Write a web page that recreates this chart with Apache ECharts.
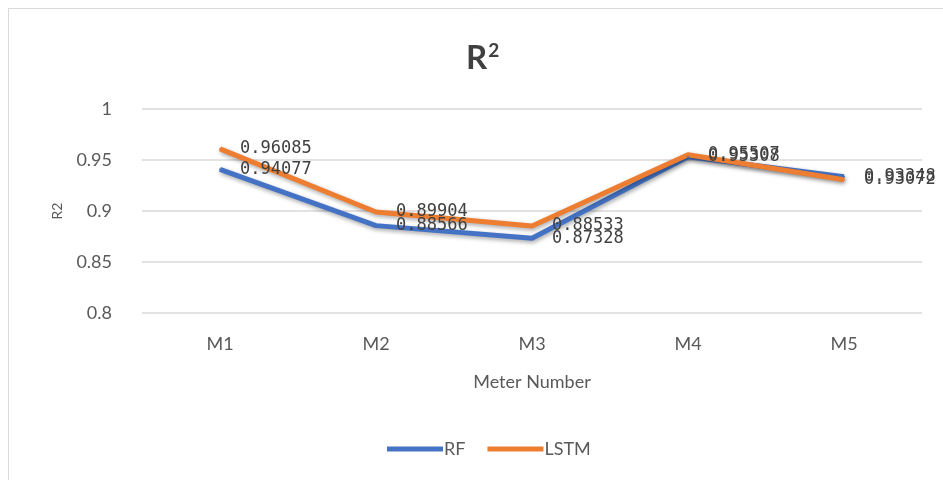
<!DOCTYPE html>
<html>
<head>
<meta charset="utf-8">
<script src="https://cdn.jsdelivr.net/npm/echarts@6/dist/echarts.min.js"></script>
<style>
  html, body { margin: 0; padding: 0; background: #ffffff; }
  #chart { width: 943px; height: 480px; }
</style>
</head>
<body>
<div id="chart"></div>
<script>
// Meters on the category axis
const meters = ['M1', 'M2', 'M3', 'M4', 'M5'];
// R² score per meter for each model
const rfValues = [0.94077, 0.88566, 0.87328, 0.95308, 0.93348];
const lstmValues = [0.96085, 0.89904, 0.88533, 0.95507, 0.93072];
// Value axis ticks
const yTicks = [0.8, 0.85, 0.9, 0.95, 1];

const font = 'Lato, "Open Sans", sans-serif';
const chart = echarts.init(document.getElementById('chart'));

function lineSeries(name, values, color) {
  return {
    name: name,
    type: 'line',
    data: values,
    symbol: 'circle',
    symbolSize: 2,
    showSymbol: true,
    lineStyle: {
      width: 5,
      color: color,
      shadowColor: 'rgba(0,0,0,0.35)',
      shadowBlur: 4,
      shadowOffsetX: 1,
      shadowOffsetY: 2
    },
    itemStyle: { color: color },
    label: {
      show: true,
      position: 'right',
      distance: 19,
      fontFamily: '"DejaVu Sans Mono", monospace',
      fontSize: 17,
      color: '#404040',
      formatter: p => String(p.value)
    },
    emphasis: { disabled: true }
  };
}

chart.setOption({
  animation: false,
  backgroundColor: '#ffffff',
  graphic: [{
    type: 'rect',
    shape: { x: 8.5, y: 8.5, width: 950, height: 480 },
    style: { fill: 'none', stroke: '#d9d9d9', lineWidth: 1 },
    silent: true
  }],
  title: {
    text: 'R{s|2}',
    left: 461,
    top: 36,
    textStyle: {
      fontFamily: font, fontSize: 33, fontWeight: 'bold', color: '#404040',
      rich: {
        s: { fontFamily: font, fontSize: 19, fontWeight: 'bold', color: '#404040', padding: [0, 0, 16, 1] }
      }
    }
  },
  legend: {
    data: ['RF', 'LSTM'],
    top: 435,
    left: 382,
    icon: 'rect',
    itemWidth: 56,
    itemHeight: 5,
    itemGap: 22,
    textStyle: { fontFamily: font, fontSize: 18, color: '#595959', padding: [0, 0, 0, -4] }
  },
  grid: { left: 142, right: 21, top: 109, bottom: 167 },
  xAxis: {
    type: 'category',
    data: meters,
    boundaryGap: true,
    name: 'Meter Number',
    nameLocation: 'middle',
    nameGap: 60,
    nameTextStyle: { fontFamily: font, fontSize: 18, color: '#595959' },
    axisLine: { show: false },
    axisTick: { show: false },
    axisLabel: { fontFamily: font, fontSize: 18, color: '#595959', margin: 22 }
  },
  yAxis: {
    type: 'value',
    min: yTicks[0],
    max: yTicks[yTicks.length - 1],
    interval: 0.05,
    name: 'R2',
    nameLocation: 'middle',
    nameGap: 78,
    nameRotate: 90,
    nameTextStyle: { fontFamily: font, fontSize: 14, color: '#595959' },
    axisLine: { show: false },
    axisTick: { show: false },
    axisLabel: {
      fontFamily: font, fontSize: 18, color: '#595959', margin: 30,
      formatter: v => String(Math.round(v * 100) / 100)
    },
    splitLine: { lineStyle: { color: '#d9d9d9', width: 1.5 } }
  },
  series: [
    lineSeries('RF', rfValues, '#4472c4'),
    lineSeries('LSTM', lstmValues, '#ed7d31')
  ]
});
</script>
</body>
</html>
